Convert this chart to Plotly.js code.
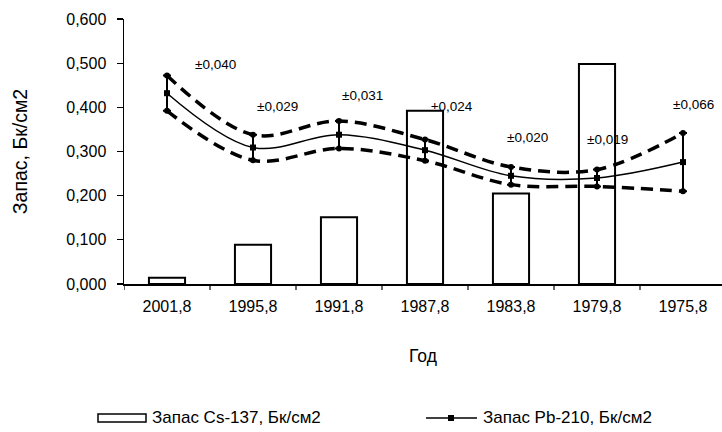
<!DOCTYPE html>
<html>
<head>
<meta charset="utf-8">
<script src="https://cdn.plot.ly/plotly-3.0.1.min.js"></script>
<style>
  html, body { margin: 0; padding: 0; background: #fff; }
  #chart { width: 722px; height: 432px; }
</style>
</head>
<body>
<div id="chart"></div>
<script>
// Sampling years (category axis, newest first)
const years = ['2001,8', '1995,8', '1991,8', '1987,8', '1983,8', '1979,8', '1975,8'];

// Cs-137 inventory per layer, Bq/cm2 (no value for the oldest layer)
const cs137 = [0.014, 0.089, 0.151, 0.392, 0.205, 0.498, null];

// Pb-210 inventory, Bq/cm2, and its uncertainty
const pb210 = [0.432, 0.309, 0.338, 0.303, 0.245, 0.240, 0.276];
const pb210Err = [0.040, 0.029, 0.031, 0.024, 0.020, 0.019, 0.066];

// Legend / series names
const nameCs = 'Запас Cs-137, Бк/см2';
const namePb = 'Запас Pb-210, Бк/см2';

// Upper and lower envelope of the Pb-210 curve
const pbUpper = pb210.map((v, i) => v + pb210Err[i]);
const pbLower = pb210.map((v, i) => v - pb210Err[i]);
const xIdx = years.map((_, i) => i);

const FONT = 'Liberation Sans, Arial, sans-serif';

// Plot-area geometry (px) used to place the hand-drawn legend
const W = 722, H = 432;
const M = { l: 124, r: 0, t: 19, b: 148 };
const PW = W - M.l - M.r, PH = H - M.t - M.b;
const px = x => (x - M.l) / PW;
const py = y => (H - M.b - y) / PH;

// Placement of the "±" labels: category offset and height on the y scale
const errLabelDx = [0.56, 0.29, 0.27, 0.31, 0.19, 0.12, 0.12];
const errLabelY = [0.497, 0.402, 0.427, 0.402, 0.332, 0.328, 0.407];

const traces = [
  {
    type: 'bar', name: nameCs, x: xIdx, y: cs137,
    marker: { color: '#ffffff', line: { color: '#000', width: 2 } },
    hoverinfo: 'skip'
  },
  {
    type: 'scatter', mode: 'lines+markers', x: xIdx, y: pbUpper,
    line: { color: '#000', width: 3.5, dash: '12px,7px', shape: 'spline', smoothing: 1 },
    marker: { symbol: 'circle', size: 6, color: '#000' },
    hoverinfo: 'skip'
  },
  {
    type: 'scatter', mode: 'lines+markers', x: xIdx, y: pbLower,
    line: { color: '#000', width: 3.5, dash: '12px,7px', shape: 'spline', smoothing: 1 },
    marker: { symbol: 'circle', size: 6, color: '#000' },
    hoverinfo: 'skip'
  },
  {
    type: 'scatter', mode: 'lines+markers', name: namePb, x: xIdx, y: pb210,
    line: { color: '#000', width: 1.5, shape: 'spline', smoothing: 1 },
    marker: { symbol: 'square', size: 6, color: '#000' },
    error_y: { type: 'data', array: pb210Err, visible: true, color: '#000', thickness: 2, width: 4 },
    hoverinfo: 'skip'
  }
];

const annotations = pb210Err.map((e, i) => ({
  x: i + errLabelDx[i], y: errLabelY[i], xref: 'x', yref: 'y',
  text: '±' + e.toFixed(3).replace('.', ','),
  showarrow: false, xanchor: 'center', yanchor: 'middle',
  font: { family: FONT, size: 13.5, color: '#000' }
}));

// Legend entries
annotations.push(
  { x: px(150), y: py(418), xref: 'paper', yref: 'paper', text: nameCs, showarrow: false,
    xanchor: 'left', yanchor: 'middle', font: { family: FONT, size: 17, color: '#000' } },
  { x: px(481), y: py(418), xref: 'paper', yref: 'paper', text: namePb, showarrow: false,
    xanchor: 'left', yanchor: 'middle', font: { family: FONT, size: 17, color: '#000' } }
);

const shapes = [
  { type: 'rect', xref: 'paper', yref: 'paper', x0: px(98), x1: px(146), y0: py(414), y1: py(422),
    line: { color: '#000', width: 1.5 }, fillcolor: '#fff' },
  { type: 'line', xref: 'paper', yref: 'paper', x0: px(426), x1: px(477), y0: py(418), y1: py(418),
    line: { color: '#000', width: 1.5 } },
  { type: 'rect', xref: 'paper', yref: 'paper', x0: px(448), x1: px(454), y0: py(415), y1: py(421),
    line: { color: '#000', width: 0 }, fillcolor: '#000' }
];

const layout = {
  width: W, height: H,
  margin: M,
  paper_bgcolor: '#fff', plot_bgcolor: '#fff',
  separators: ', ',
  showlegend: false,
  bargap: 0.58,
  font: { family: FONT, size: 16, color: '#000' },
  xaxis: {
    type: 'linear', range: [-0.5, -0.5 + PW / 86],
    tickmode: 'array', tickvals: xIdx, ticktext: years,
    showgrid: false, zeroline: false,
    showline: true, linecolor: '#000', linewidth: 1.5,
    ticks: '', ticklabelstandoff: 7,
    title: { text: 'Год', standoff: 36, font: { family: FONT, size: 17.5, color: '#000' } },
    automargin: false
  },
  yaxis: {
    range: [0, 0.6], dtick: 0.1, tickformat: '.3f',
    showgrid: false, zeroline: false,
    showline: true, linecolor: '#000', linewidth: 1.5,
    ticks: 'outside', ticklen: 6, tickcolor: '#000', tickwidth: 1.2,
    ticklabelstandoff: 7,
    title: { text: 'Запас, Бк/см2', standoff: 33, font: { family: FONT, size: 19.5, color: '#000' } },
    automargin: false
  },
  annotations: annotations,
  shapes: shapes
};

// Category-boundary tick marks on the x axis
for (let i = 0; i <= years.length; i++) {
  shapes.push({ type: 'line', xref: 'x', yref: 'paper', x0: i - 0.5, x1: i - 0.5, y0: 0, y1: -6 / PH,
    line: { color: '#000', width: 1.2 } });
}

Plotly.newPlot('chart', traces, layout, { displayModeBar: false, staticPlot: true });
</script>
</body>
</html>
